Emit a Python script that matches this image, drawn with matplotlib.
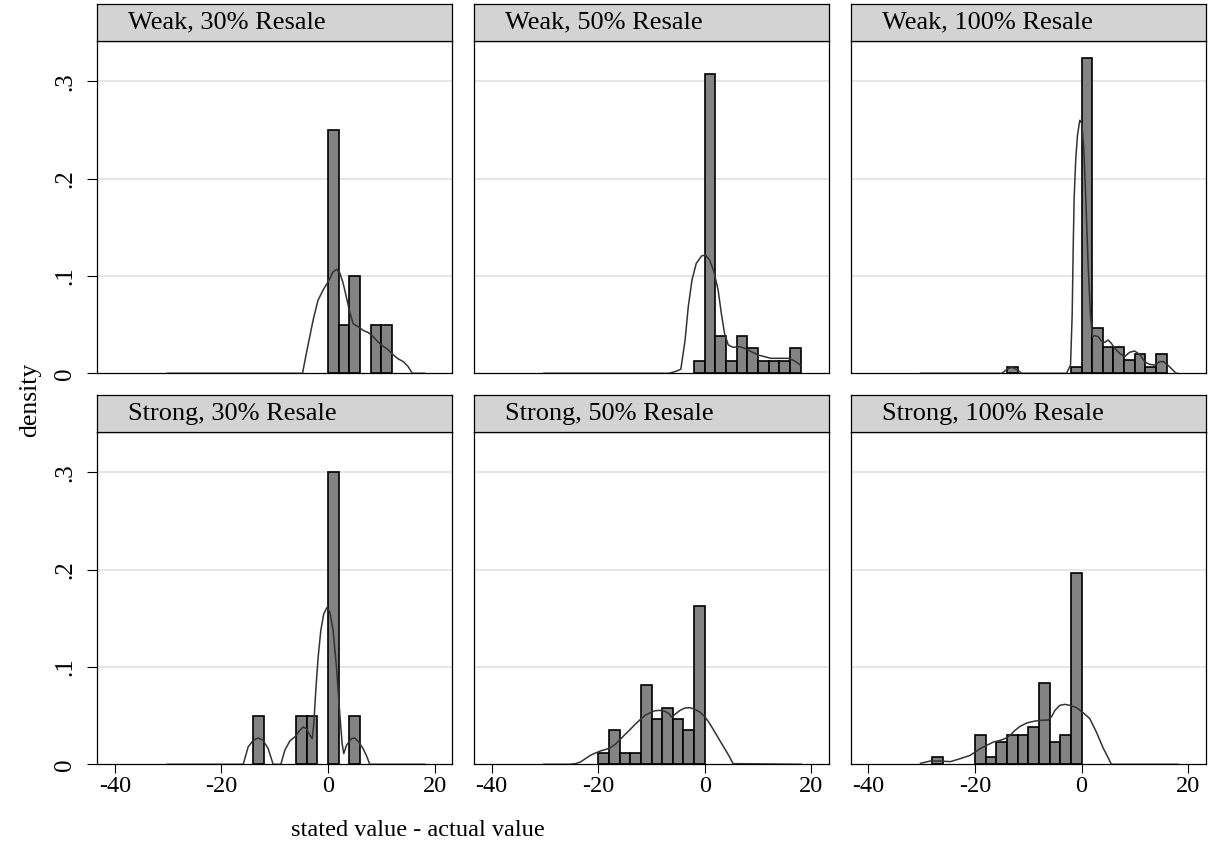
import matplotlib
matplotlib.use("Agg")
import matplotlib.pyplot as plt

# ========= DATA =====================================
titles = ["Weak, 30% Resale", "Weak, 50% Resale", "Weak, 100% Resale",
          "Strong, 30% Resale", "Strong, 50% Resale", "Strong, 100% Resale"]

bin_width = 2

# histogram bins: left edge of each bin and its density
w30_edges = [0, 2, 4, 8, 10]
w30_dens = [0.25, 0.05, 0.10, 0.05, 0.05]
w50_edges = [-2, 0, 2, 4, 6, 8, 10, 12, 14, 16]
w50_dens = [0.0128, 0.3077, 0.0385, 0.0128, 0.0385, 0.0256, 0.0128, 0.0128, 0.0128, 0.0256]
w100_edges = [-14, -2, 0, 2, 4, 6, 8, 10, 12, 14]
w100_dens = [0.0068, 0.0068, 0.324, 0.047, 0.027, 0.027, 0.0135, 0.020, 0.0068, 0.020]
s30_edges = [-14, -6, -4, 0, 4]
s30_dens = [0.05, 0.05, 0.05, 0.30, 0.05]
s50_edges = [-20, -18, -16, -14, -12, -10, -8, -6, -4, -2]
s50_dens = [0.0116, 0.0349, 0.0116, 0.0116, 0.0814, 0.0465, 0.0581, 0.0465, 0.0349, 0.1628]
s100_edges = [-28, -20, -18, -16, -14, -12, -10, -8, -6, -4, -2]
s100_dens = [0.0076, 0.0303, 0.0076, 0.0227, 0.0303, 0.0303, 0.0379, 0.0833, 0.0227, 0.0303, 0.1970]

# kernel density curves
w30_kx = [-30.2, -4.8, -4.1, -2.8, -1.9, -0.9, 0.0, 0.9, 1.6, 2.2, 2.8, 3.4, 4.1, 4.7,
          5.6, 6.6, 7.5, 8.4, 9.4, 10.3, 11.3, 12.2, 13.1, 14.1, 15.0, 15.8, 18.1]
w30_ky = [0, 0, 0.020, 0.055, 0.075, 0.086, 0.094, 0.104, 0.107, 0.103, 0.093, 0.079, 0.062, 0.051,
          0.048, 0.044, 0.042, 0.038, 0.032, 0.028, 0.024, 0.019, 0.015, 0.012, 0.007, 0.0, 0.0]
w50_kx = [-30.2, -6.8, -5.6, -4.5, -3.7, -3.1, -2.4, -1.6, -0.6, 0.1, 0.9, 1.7, 2.5, 3.1,
          3.7, 4.4, 5.3, 6.5, 7.5, 8.7, 10.0, 11.2, 12.4, 13.7, 15.6, 16.8, 17.9]
w50_ky = [0, 0, 0.0017, 0.0041, 0.034, 0.0685, 0.096, 0.113, 0.1206, 0.1216, 0.1165, 0.1045, 0.0856, 0.0616,
          0.0411, 0.0291, 0.0267, 0.0274, 0.0257, 0.0223, 0.0188, 0.0171, 0.0154, 0.0154, 0.0154, 0.0130, 0.0085]
w100_kx = [-30.2, -14.95, -14.0, -13.1, -12.2, -11.2, -2.8, -2.06, -1.75, -1.56, -1.38, -1.07, -0.75,
           -0.32, 0.06, 0.43, 0.80, 1.24, 1.68, 2.05, 2.49, 3.11, 3.73, 4.36, 4.98, 5.60, 6.22, 7.16,
           8.09, 9.03, 9.96, 10.90, 11.83, 12.77, 13.70, 14.64, 15.38, 16.19, 17.13, 17.75, 18.1]
w100_ky = [0, 0, 0.004, 0.0062, 0.004, 0, 0, 0.0085, 0.060, 0.128, 0.180, 0.221, 0.245,
           0.260, 0.257, 0.231, 0.180, 0.111, 0.060, 0.0377, 0.0387, 0.0377, 0.0332, 0.0318, 0.0342, 0.0308, 0.0257, 0.0205,
           0.0171, 0.0216, 0.0229, 0.0195, 0.0120, 0.0092, 0.0085, 0.0120, 0.0120, 0.0085, 0.0034, 0, 0]
s30_kx = [-30.2, -15.93, -15.0, -14.06, -13.12, -12.19, -11.25, -10.31, -8.87, -8.12, -7.18, -6.24,
          -5.31, -4.68, -4.06, -3.43, -2.99, -2.68, -2.31, -1.87, -1.37, -0.81, -0.24, 0.32, 0.94,
          1.57, 2.19, 2.63, 2.94, 3.44, 4.38, 5.0, 5.75, 6.57, 7.19, 7.82, 18.1]
s30_ky = [0, 0, 0.0178, 0.0246, 0.027, 0.0246, 0.0161, 0, 0, 0.0144, 0.024, 0.0281,
          0.0349, 0.0383, 0.0366, 0.0298, 0.0264, 0.0418, 0.076, 0.110, 0.1376, 0.1547, 0.1609, 0.1564, 0.1376,
          0.0999, 0.052, 0.0212, 0.011, 0.0195, 0.0264, 0.027, 0.0229, 0.016, 0.009, 0, 0]
s50_kx = [-30.2, -25.5, -24.25, -23.32, -22.39, -21.46, -20.52, -19.59, -18.66, -17.72, -16.79, -15.86,
          -14.93, -13.99, -13.06, -12.13, -11.19, -10.26, -9.33, -8.40, -7.46, -6.72, -6.22, -5.60,
          -4.66, -3.73, -2.80, -1.87, -0.93, 0, 0.93, 1.87, 2.80, 3.73, 4.66, 5.29, 18.1]
s50_ky = [0, 0, 0.0007, 0.0024, 0.0058, 0.0092, 0.0116, 0.0137, 0.0151, 0.0171, 0.0205, 0.0257,
          0.0308, 0.0359, 0.0411, 0.0459, 0.0503, 0.0530, 0.0551, 0.0554, 0.0544, 0.0520, 0.0486, 0.0513,
          0.0554, 0.0578, 0.0582, 0.0565, 0.0537, 0.0490, 0.0418, 0.0332, 0.0246, 0.0161, 0.0075, 0.0007, 0]
s100_kx = [-30.22, -28.36, -26.49, -24.62, -22.75, -20.88, -19.94, -19.01, -17.76, -16.52, -15.27,
           -14.34, -13.40, -12.47, -11.53, -10.29, -9.04, -7.79, -6.24, -5.61, -4.99, -4.06, -3.12,
           -2.19, -0.94, 0.30, 1.55, 2.80, 4.04, 4.98, 5.60, 18.1]
s100_ky = [0.001, 0.0034, 0.0034, 0.0027, 0.0058, 0.0092, 0.0127, 0.0161, 0.0195, 0.0229, 0.0246,
           0.0264, 0.0298, 0.0349, 0.0390, 0.0424, 0.0441, 0.0452, 0.0455, 0.0490, 0.0554, 0.0606, 0.0616,
           0.0606, 0.0582, 0.0530, 0.0470, 0.0330, 0.0170, 0.0070, 0.0, 0.0]

panels = [
    (w30_edges, w30_dens, w30_kx, w30_ky),
    (w50_edges, w50_dens, w50_kx, w50_ky),
    (w100_edges, w100_dens, w100_kx, w100_ky),
    (s30_edges, s30_dens, s30_kx, s30_ky),
    (s50_edges, s50_dens, s50_kx, s50_ky),
    (s100_edges, s100_dens, s100_kx, s100_ky),
]

xticks = [-40, -20, 0, 20]
yticks = [0, 0.1, 0.2, 0.3]
ytick_labels = ["0", ".1", ".2", ".3"]
# =====================================================

W, H = 1210, 850
plt.rcParams['font.family'] = ['Liberation Serif', 'DejaVu Serif']
plt.rcParams['axes.unicode_minus'] = False

fig = plt.figure(figsize=(W / 100, H / 100), dpi=100)
fig.patch.set_facecolor('white')


def rect(left, top, width, height):
    # pixel box (from top-left) -> figure fraction
    return [left / W, 1 - (top + height) / H, width / W, height / H]


col_left = [97.3, 474.0, 850.7]
panel_w = 355
row_strip_top = [4, 395]
strip_h = 37
row_axes_top = [41, 432]
axes_h = 332.3

for i, (edges, dens, kx, ky) in enumerate(panels):
    r, c = divmod(i, 3)
    ax = fig.add_axes(rect(col_left[c], row_axes_top[r], panel_w, axes_h))
    ax.set_xlim(-43.3, 23.3)
    ax.set_ylim(0, 0.3415)
    for g in yticks[1:]:
        ax.axhline(g, color='#e2e2e2', lw=1.2, zorder=0)
    ax.bar(edges, dens, width=bin_width, align='edge', color='#838383',
           edgecolor='black', linewidth=1.2, zorder=2)
    ax.plot(kx, ky, color='#333333', lw=1.1, zorder=3)
    for s in ax.spines.values():
        s.set_linewidth(0.9)
        s.set_color('black')

    ax.set_yticks(yticks)
    if c == 0:
        ax.set_yticklabels(ytick_labels, rotation=90, va='center', fontsize=18)
        ax.tick_params(axis='y', length=7, width=0.8, pad=8)
    else:
        ax.tick_params(axis='y', left=False, labelleft=False)

    ax.set_xticks(xticks)
    if r == 1:
        ax.set_xticklabels([str(t) for t in xticks], fontsize=17.5)
        ax.tick_params(axis='x', length=6.5, width=0.8, pad=2)
    else:
        ax.tick_params(axis='x', bottom=False, labelbottom=False)

    # strip with panel title
    sax = fig.add_axes(rect(col_left[c], row_strip_top[r], panel_w, strip_h))
    sax.set_facecolor('#d3d3d3')
    sax.set_xticks([])
    sax.set_yticks([])
    for s in sax.spines.values():
        s.set_linewidth(0.9)
    sax.text(31 / panel_w, 0.33, titles[i], transform=sax.transAxes,
             ha='left', va='baseline', fontsize=19)

fig.text(30 / W, 1 - 400 / H, 'density', rotation=90, ha='center', va='center', fontsize=18.5)
fig.text(418 / W, 1 - 830 / H, 'stated value - actual value', ha='center', va='center', fontsize=17.5)

fig.savefig('out.png', dpi=100)
